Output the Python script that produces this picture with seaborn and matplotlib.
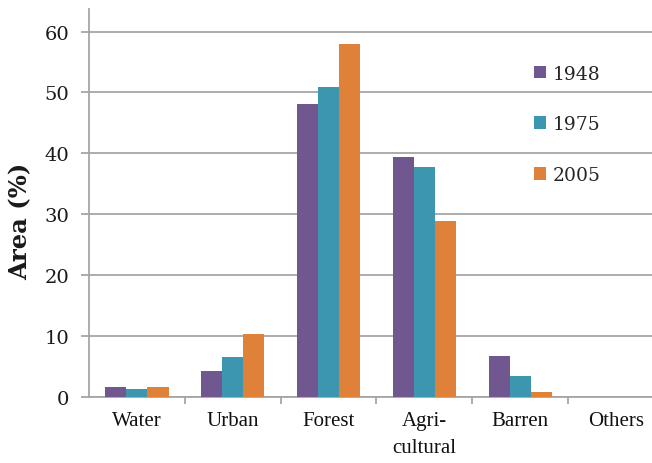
import matplotlib
matplotlib.use("Agg")
import matplotlib.pyplot as plt
import seaborn as sns
import pandas as pd
import numpy as np

categories = ["Water", "Urban", "Forest", "Agri-\ncultural", "Barren", "Others"]
years = ["1948", "1975", "2005"]
area_1948 = [1.6, 4.3, 48.1, 39.4, 6.7, 0.0]
area_1975 = [1.3, 6.5, 50.9, 37.8, 3.4, 0.0]
area_2005 = [1.6, 10.3, 58.0, 28.9, 0.8, 0.0]
colors = ["#71578f", "#3c96b0", "#e0813a"]

df = pd.DataFrame({
    "Land use": categories * 3,
    "Year": sum([[y] * len(categories) for y in years], []),
    "Area": area_1948 + area_1975 + area_2005,
})

sns.set_style("white")
plt.rcParams["font.family"] = ["DejaVu Serif"]

fig = plt.figure(figsize=(6.52, 4.64), dpi=100)
ax = fig.add_axes([89 / 652, 66 / 464, 575 / 652, 388 / 464])

sns.barplot(data=df, x="Land use", y="Area", hue="Year", order=categories,
            hue_order=years, palette=colors, width=0.66, saturation=1,
            errorbar=None, ax=ax, zorder=3, linewidth=0)

grid_c = "#a6a6a6"
ax.set_ylim(0, 63.7)
ax.set_xlim(-0.5, 5.5)
ax.set_yticks(np.arange(0, 61, 10))
ax.yaxis.grid(True, color=grid_c, linewidth=1.3, zorder=0)
ax.set_axisbelow(True)

for s in ["top", "right"]:
    ax.spines[s].set_visible(False)
for s in ["left", "bottom"]:
    ax.spines[s].set_color(grid_c)
    ax.spines[s].set_linewidth(1.3)

ax.tick_params(axis="y", length=6, width=1.3, color=grid_c, labelsize=14,
               pad=8, left=True, labelcolor="#1a1a1a")
ax.tick_params(axis="x", which="major", length=0, pad=10)
ax.set_xticks(np.arange(0.5, 5.5, 1.0), minor=True)
ax.tick_params(axis="x", which="minor", length=5, width=1.3, color=grid_c, bottom=True)
ax.set_xticks(range(len(categories)), categories, fontfamily="Liberation Serif",
              fontsize=15, linespacing=1.55, color="#111111")

ax.set_xlabel("")
ax.set_ylabel("Area (%)", fontsize=17.5, fontweight="semibold", color="#1a1a1a")
ax.yaxis.set_label_coords(-0.099, 0.454)

handles, labels = ax.get_legend_handles_labels()
ax.legend(handles, labels, frameon=False, loc="upper left",
          bbox_to_anchor=(526 / 652, 1 - 58 / 464), bbox_transform=fig.transFigure,
          fontsize=13.5, handlelength=0.65, handleheight=0.65,
          handletextpad=0.4, labelspacing=1.75, borderaxespad=0)

fig.savefig("out.png", dpi=100)
